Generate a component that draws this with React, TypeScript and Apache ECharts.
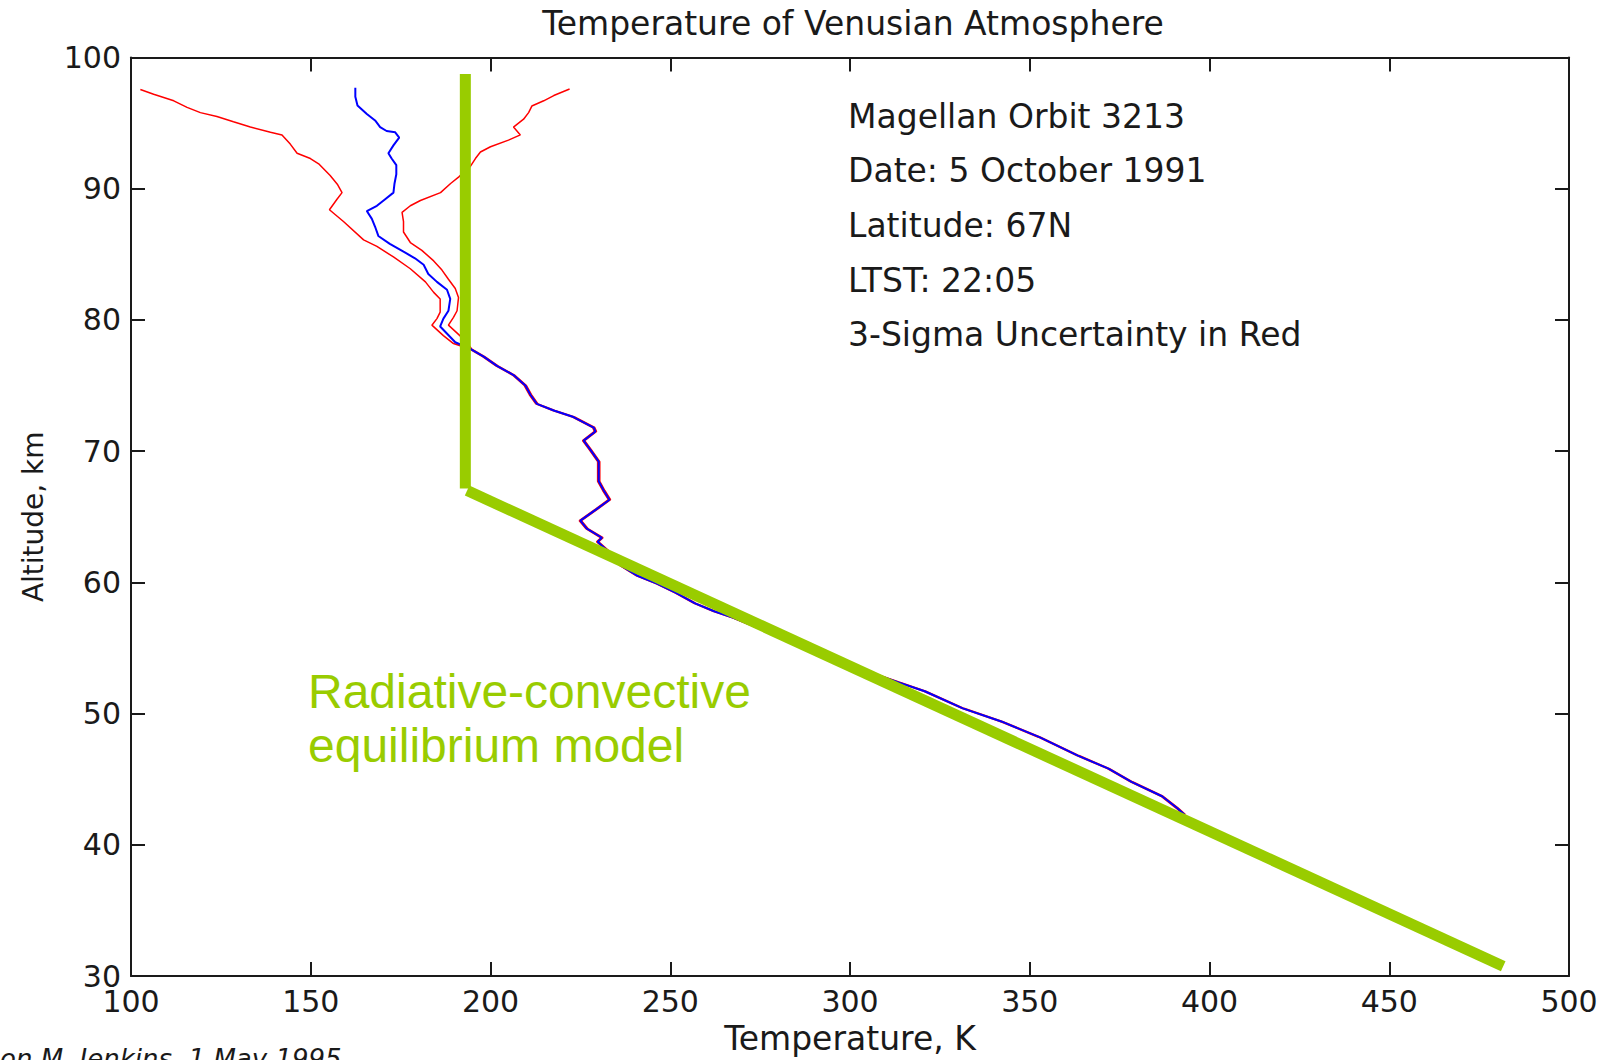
import React, { useEffect, useRef } from "react";
import * as echarts from "echarts";

// ---- Data: [temperature K, altitude km] ----
const measuredProfile: number[][] = [
  [162.4, 97.7], [162.4, 97.0], [163.0, 96.35], [165.6, 95.7], [167.9, 95.2], [169.3, 94.7],
  [171.1, 94.4], [173.5, 94.3], [174.6, 93.9], [173.0, 93.3], [171.6, 92.7], [172.5, 92.3],
  [173.8, 91.8], [173.8, 91.1], [173.3, 90.4], [173.0, 89.7], [170.7, 89.2], [168.4, 88.7],
  [165.6, 88.3], [167.0, 87.7], [167.9, 87.1], [168.8, 86.4], [172.0, 85.8], [175.8, 85.2],
  [179.0, 84.7], [181.4, 84.2], [182.7, 83.5], [185.1, 82.9], [187.9, 82.3], [188.8, 81.6],
  [188.3, 80.7], [186.9, 80.1], [186.0, 79.5], [187.4, 79.1], [190.2, 78.3], [194.4, 77.8],
  [198.1, 77.2], [201.8, 76.5], [206.4, 75.8], [209.7, 75.0], [211.1, 74.3], [212.9, 73.6],
  [217.6, 73.1], [223.1, 72.6], [228.7, 71.8], [229.2, 71.5], [225.9, 70.8], [227.8, 70.1],
  [230.1, 69.2], [230.1, 67.7], [231.5, 67.0], [233.1, 66.3], [229.6, 65.6], [225.0, 64.7],
  [226.8, 64.1], [231.0, 63.4], [229.8, 63.1], [233.0, 62.3], [236.2, 61.3], [240.9, 60.5],
  [246.3, 59.9], [251.6, 59.2], [256.9, 58.4], [262.2, 57.8], [267.6, 57.3], [272.9, 56.7],
  [278.2, 56.1], [282.5, 55.6], [290.0, 54.9], [298.0, 54.0], [305.0, 53.2], [313.3, 52.4],
  [320.8, 51.7], [331.4, 50.4], [342.1, 49.4], [352.7, 48.2], [363.4, 46.8], [371.9, 45.8],
  [378.3, 44.8], [386.8, 43.7], [391.0, 42.8], [393.0, 42.3],
];

const lowerSigmaProfile: number[][] = [
  [102.6, 97.56], [106.3, 97.2], [111.9, 96.7], [115.6, 96.2], [119.3, 95.8], [123.9, 95.5],
  [128.5, 95.1], [133.2, 94.7], [138.8, 94.3], [142.0, 94.1], [144.3, 93.4], [146.2, 92.7],
  [149.9, 92.3], [152.2, 91.9], [155.4, 91.0], [157.5, 90.3], [158.7, 89.7], [157.3, 89.2],
  [155.2, 88.4], [159.1, 87.5], [164.7, 86.1], [168.4, 85.6], [173.0, 84.8], [177.7, 83.9],
  [181.9, 82.9], [184.2, 82.1], [186.0, 81.6], [186.0, 80.6], [185.1, 80.1], [183.7, 79.6],
  [186.9, 78.8], [189.7, 78.2], [194.1, 77.8], [197.8, 77.2], [201.5, 76.5], [206.1, 75.8],
  [209.4, 75.0], [210.8, 74.3], [212.6, 73.6], [217.3, 73.1], [222.8, 72.6], [228.4, 71.8],
  [228.9, 71.5], [225.6, 70.8], [227.5, 70.1], [229.8, 69.2], [229.8, 67.7], [231.2, 67.0],
  [232.8, 66.3], [229.3, 65.6], [224.7, 64.7], [226.5, 64.1], [230.7, 63.4], [229.5, 63.1],
  [232.7, 62.3], [235.9, 61.3], [240.6, 60.5], [246.0, 59.9], [251.3, 59.2], [256.6, 58.4],
  [261.9, 57.8], [267.3, 57.3], [272.6, 56.7], [277.9, 56.1], [282.2, 55.6], [289.7, 54.9],
  [297.7, 54.0], [304.7, 53.2], [313.0, 52.4], [320.5, 51.7], [331.1, 50.4], [341.8, 49.4],
  [352.4, 48.2], [363.1, 46.8], [371.6, 45.8], [378.0, 44.8], [386.5, 43.7], [390.7, 42.8],
  [392.7, 42.3],
];

const upperSigmaProfile: number[][] = [
  [222.0, 97.6], [217.6, 97.1], [214.8, 96.7], [211.5, 96.3], [210.6, 95.8], [209.2, 95.3],
  [206.4, 94.7], [208.3, 94.1], [205.0, 93.7], [200.0, 93.2], [197.2, 92.8], [195.8, 92.3],
  [194.4, 91.7], [191.2, 90.9], [188.9, 90.4], [186.1, 89.7], [180.5, 89.1], [177.7, 88.7],
  [175.4, 88.2], [175.8, 87.5], [175.8, 86.7], [177.7, 85.9], [180.9, 85.3], [184.2, 84.5],
  [186.5, 83.8], [188.3, 83.1], [190.2, 82.4], [191.1, 81.7], [190.7, 80.7], [189.7, 80.2],
  [188.3, 79.6], [191.1, 78.9], [193.4, 78.3], [194.7, 77.8], [198.4, 77.2], [202.1, 76.5],
  [206.7, 75.8], [210.0, 75.0], [211.4, 74.3], [213.2, 73.6], [217.9, 73.1], [223.4, 72.6],
  [229.0, 71.8], [229.5, 71.5], [226.2, 70.8], [228.1, 70.1], [230.4, 69.2], [230.4, 67.7],
  [231.8, 67.0], [233.4, 66.3], [229.9, 65.6], [225.3, 64.7], [227.1, 64.1], [231.3, 63.4],
  [230.1, 63.1], [233.3, 62.3], [236.5, 61.3], [241.2, 60.5], [246.6, 59.9], [251.9, 59.2],
  [257.2, 58.4], [262.5, 57.8], [267.9, 57.3], [273.2, 56.7], [278.5, 56.1], [282.8, 55.6],
  [290.3, 54.9], [298.3, 54.0], [305.3, 53.2], [313.6, 52.4], [321.1, 51.7], [331.7, 50.4],
  [342.4, 49.4], [353.0, 48.2], [363.7, 46.8], [372.2, 45.8], [378.6, 44.8], [387.1, 43.7],
  [391.3, 42.8], [393.3, 42.3],
];

const modelUpper: number[][] = [[193.0, 98.75], [193.0, 67.15]];
const modelLower: number[][] = [[193.5, 67.0], [481.7, 30.75]];

const xRange = [100, 500];
const yRange = [30, 100];

const titleText = "Temperature of Venusian Atmosphere";
const xName = "Temperature, K";
const yName = "Altitude, km";
const infoLines = [
  "Magellan Orbit 3213",
  "Date: 5 October 1991",
  "Latitude: 67N",
  "LTST: 22:05",
  "3-Sigma Uncertainty in Red",
];
const modelLabelLines = ["Radiative-convective", "equilibrium model"];
const creditText = "on M. Jenkins, 1 May 1995";

const FONT = "'DejaVu Sans', sans-serif";
const INK = "#1a1a1a";
const GREEN = "#99cc00";

export default function App() {
  const ref = useRef<HTMLDivElement>(null);

  useEffect(() => {
    if (!ref.current) return;
    const chart = echarts.init(ref.current, null, { renderer: "svg" });

    const axisLine = { show: true, onZero: false, lineStyle: { color: INK, width: 2 } };
    const axisTick = { show: true, inside: true, length: 14, lineStyle: { color: INK, width: 2 } };
    const labelStyle = { fontFamily: FONT, fontSize: 30, color: INK };

    const infoY = [116, 170.5, 225.5, 280, 334.5];
    const modelY = [691, 745];

    const option: any = {
      animation: false,
      backgroundColor: "#ffffff",
      grid: { left: 131, right: 45, top: 57.5, bottom: 82, containLabel: false },
      xAxis: [
        {
          type: "value", min: xRange[0], max: xRange[1], interval: 50, position: "bottom",
          name: xName, nameLocation: "middle", nameGap: 46,
          nameTextStyle: { fontFamily: FONT, fontSize: 33, color: INK },
          axisLine, axisTick,
          axisLabel: { ...labelStyle, margin: 10 },
          splitLine: { show: false },
        },
        {
          type: "value", min: xRange[0], max: xRange[1], interval: 50, position: "top",
          axisLine, axisTick, axisLabel: { show: false }, splitLine: { show: false },
        },
      ],
      yAxis: [
        {
          type: "value", min: yRange[0], max: yRange[1], interval: 10, position: "left",
          name: yName, nameLocation: "middle", nameGap: 84,
          nameTextStyle: { fontFamily: FONT, fontSize: 28, color: INK },
          axisLine, axisTick,
          axisLabel: { ...labelStyle, margin: 10 },
          splitLine: { show: false },
        },
        {
          type: "value", min: yRange[0], max: yRange[1], interval: 10, position: "right",
          axisLine, axisTick, axisLabel: { show: false }, splitLine: { show: false },
        },
      ],
      series: [
        {
          name: "Lower 3-sigma", type: "line", data: lowerSigmaProfile, showSymbol: false,
          lineStyle: { color: "#ff0000", width: 1.5 }, z: 2,
        },
        {
          name: "Upper 3-sigma", type: "line", data: upperSigmaProfile, showSymbol: false,
          lineStyle: { color: "#ff0000", width: 1.5 }, z: 2,
        },
        {
          name: "Measured", type: "line", data: measuredProfile, showSymbol: false,
          lineStyle: { color: "#0000ff", width: 2 }, z: 3,
        },
        {
          name: "Model upper", type: "line", data: modelUpper, showSymbol: false,
          lineStyle: { color: GREEN, width: 11, cap: "butt" }, z: 4,
        },
        {
          name: "Model lower", type: "line", data: modelLower, showSymbol: false,
          lineStyle: { color: GREEN, width: 11, cap: "butt" }, z: 4,
        },
      ],
      graphic: [
        {
          type: "text", x: 853, y: 23.5,
          style: { text: titleText, fontFamily: FONT, fontSize: 33, fill: INK, align: "center", verticalAlign: "middle" },
        },
        ...infoLines.map((t, i) => ({
          type: "text", x: 848, y: infoY[i],
          style: { text: t, fontFamily: FONT, fontSize: 33, fill: INK, align: "left", verticalAlign: "middle" },
        })),
        ...modelLabelLines.map((t, i) => ({
          type: "text", x: 308, y: modelY[i],
          style: { text: t, fontFamily: "'Liberation Sans', Arial, sans-serif", fontSize: 48, fill: GREEN, align: "left", verticalAlign: "middle" },
        })),
        {
          type: "text", x: 0, y: 1046,
          style: { text: creditText, fontFamily: FONT, fontSize: 26, fontStyle: "italic", fill: INK, align: "left", verticalAlign: "top" },
        },
      ],
    };

    chart.setOption(option);
    return () => chart.dispose();
  }, []);

  return (
    <div
      ref={ref}
      style={{ position: "fixed", left: 0, top: 0, width: 1614, height: 1060, background: "#fff" }}
    />
  );
}
